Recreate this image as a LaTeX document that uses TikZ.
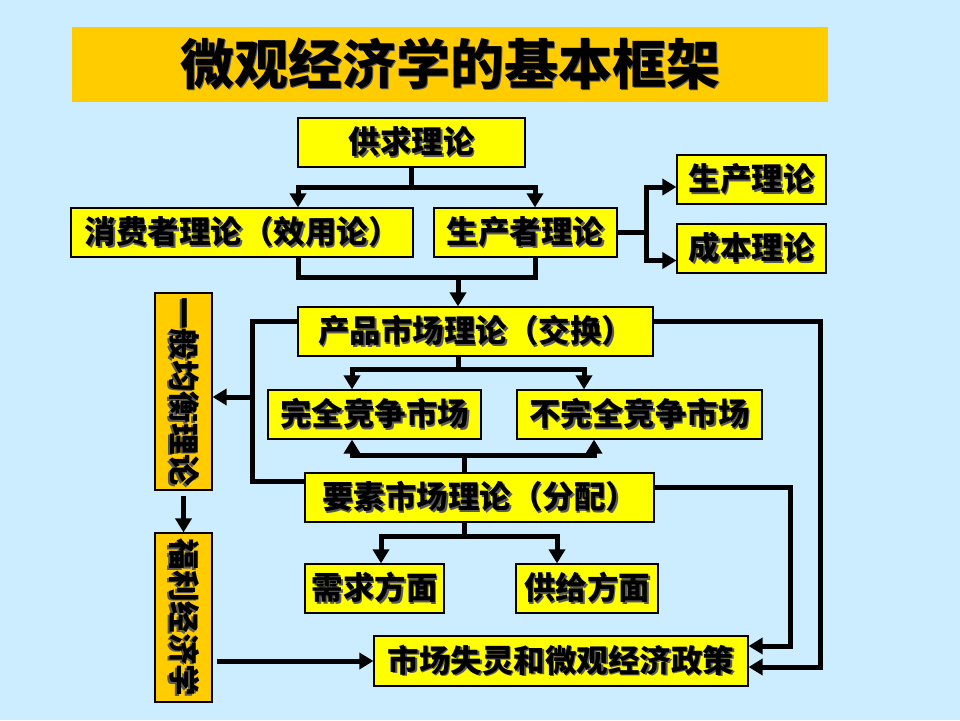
\documentclass[tikz,border=0pt]{standalone}
\usepackage{fontspec}
\setmainfont{Noto Sans CJK SC}
\usepackage{graphicx}
\usetikzlibrary{positioning, calc, arrows.meta}
\definecolor{bgblue}{HTML}{CCECFF}
\definecolor{boxyellow}{HTML}{FFFF00}
\definecolor{gold}{HTML}{FFCC00}
\definecolor{shade}{HTML}{5A5A5A}
\newcommand{\shadowed}[1]{\makebox[0pt][l]{\hspace{1.6pt}\raisebox{-1.6pt}{\textcolor{shade}{#1}}}#1}
\newcommand{\sideways}[1]{\rotatebox[origin=c]{-90}{\shadowed{#1}}}
\tikzstyle{Link} = [line width=5pt]
\tikzstyle{Flow} = [
%thick connector with a filled head:
line width=5pt,
-{Triangle[length=14pt,width=16pt]}
]

\begin{document}
\begin{tikzpicture}[x=1pt, y=-1pt,
				heading/.style = {fill=gold, inner sep=0pt, minimum width=756pt, minimum height=75pt, font=\bfseries\fontsize{54}{58}\selectfont},
				theory/.style = {rectangle, draw, line width=1.2pt, fill=boxyellow, inner sep=0pt, minimum height=49pt, font=\bfseries\fontsize{31.5}{33}\selectfont},
				upright/.style = {theory, fill=gold, minimum width=57pt},
			]
			\fill[bgblue] (0,0) rectangle (960,720);

			\node[heading](title) at (450,64.5){\shadowed{微观经济学的基本框架}};

			\node[theory, minimum width=227pt](supply) at (411.5,142.5){\shadowed{供求理论}};
			\node[theory, minimum width=342pt](consumer) at (242,232.5){\shadowed{消费者理论（效用论）}};
			\node[theory, minimum width=183pt](producer) at (525.5,232.5){\shadowed{生产者理论}};
			\node[theory, minimum width=149pt](production) at (751.5,179.5){\shadowed{生产理论}};
			\node[theory, minimum width=149pt](cost) at (751.5,248.5){\shadowed{成本理论}};
			\node[theory, minimum width=355pt](product) at (475.5,331.5){\shadowed{产品市场理论（交换）}};
			\node[theory, minimum width=213pt](perfect) at (374.5,414.5){\shadowed{完全竞争市场}};
			\node[theory, minimum width=245pt](imperfect) at (639.5,414.5){\shadowed{不完全竞争市场}};
			\node[theory, minimum width=349pt](factor) at (479.5,497.5){\shadowed{要素市场理论（分配）}};
			\node[theory, minimum width=139pt](demand) at (374.5,588.5){\shadowed{需求方面}};
			\node[theory, minimum width=142pt](supplyside) at (587,588.5){\shadowed{供给方面}};
			\node[theory, minimum width=374pt, minimum height=50pt](policy) at (561,661){\shadowed{市场失灵和微观经济政策}};
			\node[upright, minimum height=197pt](general) at (183.5,391.5){\sideways{一般均衡理论}};
			\node[upright, minimum height=169pt](welfare) at (183.5,617.5){\sideways{福利经济学}};

			\coordinate(lefttop) at ([xshift=-45pt, yshift=10.5pt]product.west);

			\draw[Flow](supply.south) -- ++(0,20) -| ([xshift=56pt]consumer.north);
			\draw[Flow](supply.south) -- ++(0,20) -| ([xshift=9.5pt]producer.north);
			\draw[Link]([xshift=56pt]consumer.south) -- ++(0,20) -| ([xshift=9.5pt]producer.south);
			\draw[Flow]([xshift=-17.5pt]product.north |- consumer.south) ++(0,20) -- ([xshift=-17.5pt]product.north);
			\draw[Flow](producer.east) -- ++(29,0) |- ([yshift=-7.5pt]production.west);
			\draw[Flow](producer.east) -- ++(29,0) |- ([yshift=-12pt]cost.west);

			\draw[Flow]([xshift=-17.5pt]product.south) -- ++(0,13) -| ([xshift=-22.5pt]perfect.north);
			\draw[Flow]([xshift=-17.5pt]product.south) -- ++(0,13) -| ([xshift=-55.5pt]imperfect.north);
			\draw[Flow]([xshift=-15pt]factor.north) -- ++(0,-17) -| ([xshift=-22.5pt]perfect.south);
			\draw[Flow]([xshift=-15pt]factor.north) -- ++(0,-17) -| ([xshift=-45.5pt]imperfect.south);
			\draw[Flow]([xshift=-15pt]factor.south) -- ++(0,14) -| ([xshift=6.5pt]demand.north);
			\draw[Flow]([xshift=-15pt]factor.south) -- ++(0,14) -| ([xshift=-30pt]supplyside.north);

			\draw[Link]([yshift=10.5pt]product.west) -- (lefttop) |- ([yshift=16.5pt]factor.west);
			\draw[Flow]([yshift=-5.5pt]general.east -| lefttop) -- ([yshift=-5.5pt]general.east);
			\draw[Flow]([yshift=10.5pt]product.east) -- ++(167,0) |- ([yshift=-6pt]policy.east);
			\draw[Flow]([yshift=10pt]factor.east) -- ++(136,0) |- ([yshift=15pt]policy.east);

			\draw[Flow, shorten <=5pt](general.south) -- (welfare.north);
			\draw[Flow, shorten <=4pt](policy.west -| welfare.east) -- (policy.west);

		\end{tikzpicture}
\end{document}
